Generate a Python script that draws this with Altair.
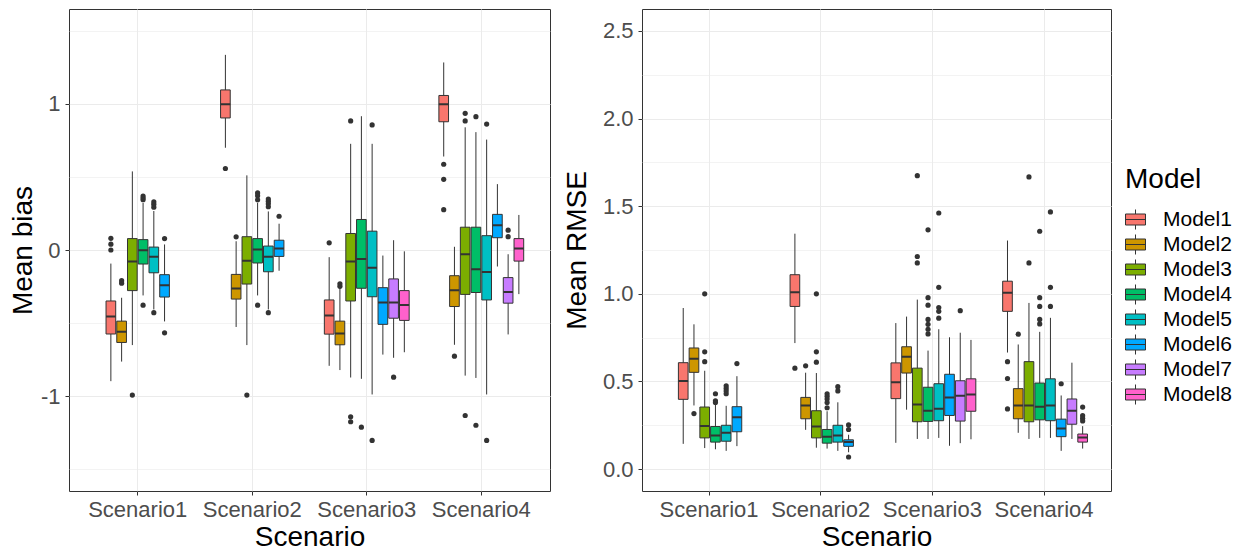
import altair as alt
import pandas as pd

SCENARIOS = ["Scenario1", "Scenario2", "Scenario3", "Scenario4"]
MODELS = ["Model1", "Model2", "Model3", "Model4", "Model5", "Model6", "Model7", "Model8"]
MODELS_PER_SCENARIO = [6, 6, 8, 8]
COLORS = ["#F8766D", "#CD9600", "#7CAE00", "#00BE67", "#00BFC4", "#00A9FF", "#C77CFF", "#FF61CC"]

# ---- Mean bias: box statistics, rows = (scenario, model) in order ----
BIAS_LO = [-0.898, -0.764, -0.651, -0.311, -0.407, -0.489,
           0.700, -0.527, -0.651, -0.311, -0.407, -0.142,
           -0.793, -0.822, -0.873, -0.882, -0.989, -0.716, -0.738, -0.700,
           0.640, -0.649, -0.860, -0.876, -0.989, -0.113, -0.578, -0.302]
BIAS_Q1 = [-0.575, -0.633, -0.278, -0.096, -0.156, -0.322,
           0.904, -0.336, -0.233, -0.089, -0.149, -0.044,
           -0.576, -0.649, -0.349, -0.262, -0.320, -0.509, -0.467, -0.482,
           0.878, -0.387, -0.304, -0.291, -0.342, 0.084, -0.364, -0.076]
BIAS_MED = [-0.455, -0.560, -0.078, -0.002, -0.047, -0.242,
            0.998, -0.264, -0.073, 0.004, -0.047, 0.011,
            -0.449, -0.571, -0.078, -0.062, -0.122, -0.360, -0.360, -0.376,
            0.998, -0.276, -0.029, -0.131, -0.151, 0.169, -0.287, 0.011]
BIAS_Q3 = [-0.349, -0.487, 0.078, 0.071, 0.020, -0.169,
           1.096, -0.167, 0.091, 0.078, 0.027, 0.067,
           -0.342, -0.487, 0.113, 0.209, 0.129, -0.258, -0.198, -0.278,
           1.058, -0.176, 0.156, 0.156, 0.098, 0.244, -0.189, 0.078]
BIAS_HI = [-0.093, -0.327, 0.538, 0.322, 0.267, 0.038,
           1.336, 0.060, 0.511, 0.324, 0.264, 0.180,
           -0.049, -0.260, 0.727, 0.916, 0.727, -0.038, 0.067, -0.009,
           1.284, 0.022, 0.840, 0.807, 0.756, 0.451, -0.029, 0.240]
BIAS_OUT = [[0.0, 0.04, 0.08], [-0.21, -0.227], [-0.993], [0.369, 0.356, 0.344, -0.378],
            [0.329, 0.313, 0.293, -0.429], [0.078, -0.567],
            [0.558], [0.09], [-0.993], [0.391, 0.371, 0.344, -0.378],
            [0.349, 0.333, 0.316, 0.296, -0.429], [0.231],
            [0.049], [-0.231, -0.249], [0.884, -1.142, -1.176], [-1.213],
            [0.856, -1.304], [], [-0.871], [],
            [0.587, 0.484, 0.276], [-0.727], [0.936, 0.884, -1.133], [0.913, -1.2],
            [0.862, -1.304], [], [0.136, 0.091], []]

# ---- Mean RMSE ----
RMSE_LO = [0.144, 0.363, 0.120, 0.113, 0.104, 0.131,
           0.719, 0.224, 0.122, 0.117, 0.104, 0.096,
           0.150, 0.339, 0.172, 0.172, 0.178, 0.133, 0.148, 0.170,
           0.665, 0.207, 0.172, 0.178, 0.178, 0.104, 0.172, 0.117]
RMSE_Q1 = [0.398, 0.552, 0.178, 0.154, 0.159, 0.213,
           0.928, 0.287, 0.178, 0.148, 0.154, 0.130,
           0.402, 0.548, 0.270, 0.272, 0.276, 0.306, 0.274, 0.330,
           0.900, 0.287, 0.270, 0.281, 0.276, 0.185, 0.256, 0.154]
RMSE_MED = [0.502, 0.630, 0.246, 0.191, 0.207, 0.296,
            1.009, 0.363, 0.243, 0.185, 0.191, 0.154,
            0.496, 0.641, 0.369, 0.333, 0.344, 0.409, 0.419, 0.426,
            1.006, 0.363, 0.363, 0.356, 0.363, 0.231, 0.333, 0.180]
RMSE_Q3 = [0.607, 0.691, 0.354, 0.243, 0.250, 0.356,
           1.109, 0.409, 0.333, 0.226, 0.250, 0.167,
           0.606, 0.698, 0.576, 0.467, 0.487, 0.541, 0.504, 0.515,
           1.072, 0.459, 0.613, 0.491, 0.515, 0.285, 0.400, 0.200]
RMSE_HI = [0.919, 0.826, 0.561, 0.370, 0.361, 0.530,
           1.343, 0.550, 0.548, 0.330, 0.381, 0.196,
           0.833, 0.870, 0.967, 0.676, 0.798, 0.752, 0.778, 0.737,
           1.304, 0.711, 0.948, 0.783, 0.863, 0.420, 0.607, 0.245]
RMSE_OUT = [[], [0.317], [1.0, 0.669, 0.613], [0.43, 0.39, 0.38],
            [0.475, 0.46, 0.445, 0.43], [0.602],
            [0.576], [0.589], [1.0, 0.669, 0.61], [0.43, 0.415, 0.40, 0.38, 0.35],
            [0.47, 0.446], [0.252, 0.226, 0.069],
            [], [], [1.674, 1.213, 1.176], [1.365, 0.978, 0.935, 0.854, 0.826, 0.798, 0.771],
            [1.461, 1.037, 0.922, 0.90, 0.861], [], [0.904], [],
            [0.613, 0.517, 0.343], [0.77], [1.667, 1.176], [1.357, 0.978, 0.928, 0.854, 0.828],
            [1.467, 1.037, 0.928], [0.487], [], [0.354, 0.305, 0.29, 0.275]]

FONT = "Liberation Sans"
DARK = "#333333"
LEGEND_SYMBOL = "M-1,-0.55H1V0.55H-1Z M-1,0H1 M0,-1V-0.55 M0,0.55V1"
PLOT_H = 482


def frames(lo, q1, med, q3, hi, out):
    boxes, points = [], []
    i = 0
    for s, n in zip(SCENARIOS, MODELS_PER_SCENARIO):
        for k in range(n):
            slot = k + (8 - n) // 2  # dodge, centred within the scenario
            boxes.append(dict(Scenario=s, Model=MODELS[k], slot=slot,
                              lo=lo[i], q1=q1[i], med=med[i], q3=q3[i], hi=hi[i]))
            for v in out[i]:
                points.append(dict(Scenario=s, Model=MODELS[k], slot=slot, value=v))
            i += 1
    return pd.DataFrame(boxes), pd.DataFrame(points)


def panel(box_df, pts_df, ytitle, domain, values, label_expr, minor_test, width, ytitle_pad):
    x = alt.X("Scenario:N", title="Scenario",
              scale=alt.Scale(domain=SCENARIOS, paddingInner=0.25, paddingOuter=0.225),
              axis=alt.Axis(labelAngle=0, grid=True, bandPosition=0.5,
                            labelPadding=4, titlePadding=3))
    xo = alt.XOffset("slot:O",
                     scale=alt.Scale(domain=list(range(8)), paddingInner=0.1, paddingOuter=0.05))
    ysc = alt.Scale(domain=domain, nice=False, zero=False)
    yax = alt.Axis(values=values, labelExpr=label_expr, labelPadding=5, titlePadding=ytitle_pad,
                   tickColor={"condition": {"test": minor_test, "value": "transparent"}, "value": DARK},
                   gridWidth={"condition": {"test": minor_test, "value": 0.6}, "value": 1.1})
    color = alt.Color("Model:N", scale=alt.Scale(domain=MODELS, range=COLORS),
                      legend=alt.Legend(title="Model", orient="none", legendX=1056, legendY=157,
                                        symbolType=LEGEND_SYMBOL, symbolSize=400,
                                        symbolStrokeColor=DARK, symbolStrokeWidth=1,
                                        titleFont=FONT, titleFontSize=28, titleFontWeight="normal",
                                        titleColor="black", labelFont=FONT, labelFontSize=21,
                                        labelColor="black", rowPadding=0, labelOffset=17,
                                        titlePadding=15, padding=0))
    base = alt.Chart(box_df)
    whisk = base.mark_rule(color=DARK, strokeWidth=1).encode(
        x=x, xOffset=xo, y=alt.Y("lo:Q", scale=ysc, axis=yax, title=ytitle), y2="hi:Q")
    box = base.mark_bar(stroke=DARK, strokeWidth=1).encode(
        x=x, xOffset=xo, y=alt.Y("q1:Q"), y2="q3:Q", color=color)
    med = base.mark_bar(fill="transparent", stroke=DARK, strokeWidth=2).encode(
        x=x, xOffset=xo, y=alt.Y("med:Q"), y2="med:Q")
    pts = alt.Chart(pts_df).mark_circle(size=27, color=DARK, opacity=1).encode(
        x=x, xOffset=xo, y=alt.Y("value:Q"))
    return alt.layer(whisk, box, med, pts).properties(width=width, height=PLOT_H)


bias_box, bias_pts = frames(BIAS_LO, BIAS_Q1, BIAS_MED, BIAS_Q3, BIAS_HI, BIAS_OUT)
rmse_box, rmse_pts = frames(RMSE_LO, RMSE_Q1, RMSE_MED, RMSE_Q3, RMSE_HI, RMSE_OUT)

left = panel(bias_box, bias_pts, "Mean bias", [-1.65, 1.65],
             [-1.5, -1, -0.5, 0, 0.5, 1, 1.5],
             "datum.value % 1 === 0 ? toString(datum.value) : ''",
             "datum.value % 1 !== 0", 481, 3)
right = panel(rmse_box, rmse_pts, "Mean RMSE", [-0.125, 2.625],
              [0, 0.25, 0.5, 0.75, 1, 1.25, 1.5, 1.75, 2, 2.25, 2.5],
              "datum.value % 0.5 === 0 ? format(datum.value, '.1f') : ''",
              "datum.value % 0.5 !== 0", 469, 11)

chart = alt.hconcat(left, right, spacing=11).properties(
    padding={"left": 0, "top": 0, "right": 0, "bottom": 0}
).configure_view(stroke=DARK, strokeWidth=1).configure_axis(
    domain=False, gridColor="#EBEBEB", tickColor=DARK, tickSize=4, tickWidth=1,
    labelFont=FONT, labelFontSize=22, labelColor="#4D4D4D",
    titleFont=FONT, titleFontSize=28, titleFontWeight="normal", titleColor="black"
)

chart.save("out.html", embed_options={"renderer": "svg", "actions": False})
